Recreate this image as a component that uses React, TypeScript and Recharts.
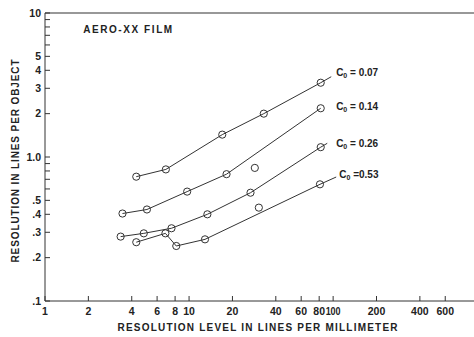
import React from "react";
import {
  ScatterChart,
  Scatter,
  XAxis,
  YAxis,
  ReferenceLine,
  ReferenceDot,
  Label,
} from "recharts";

const xTicks = [1, 2, 4, 6, 8, 10, 20, 40, 60, 80, 100, 200, 400, 600];
const yTicks = [0.1, 0.2, 0.3, 0.4, 0.5, 0.6, 0.7, 0.8, 0.9, 1, 2, 3, 4, 5, 6, 7, 8, 9, 10];
const yTickText: Record<string, string> = {
  "0.1": ".1",
  "0.2": ".2",
  "0.3": ".3",
  "0.4": ".4",
  "0.5": ".5",
  "1": "1.0",
  "2": "2",
  "3": "3",
  "4": "4",
  "5": "5",
  "10": "10",
};

// C0 = 0.07
const c007 = [
  { x: 4.3, y: 0.73 },
  { x: 6.9, y: 0.82 },
  { x: 17, y: 1.43 },
  { x: 33, y: 2.0 },
  { x: 82, y: 3.28 },
];
const c007End = { x: 97, y: 3.61 };

// C0 = 0.14
const c014 = [
  { x: 3.45, y: 0.405 },
  { x: 5.1, y: 0.432 },
  { x: 9.7, y: 0.575 },
  { x: 18.2, y: 0.76 },
  { x: 82, y: 2.18 },
];
const c014Off = [{ x: 28.6, y: 0.84 }];

// C0 = 0.26
const c026 = [
  { x: 3.35, y: 0.28 },
  { x: 4.85, y: 0.295 },
  { x: 7.55, y: 0.32 },
  { x: 13.4, y: 0.4 },
  { x: 26.7, y: 0.565 },
  { x: 82, y: 1.17 },
];
const c026End = { x: 91, y: 1.245 };

// C0 = 0.53
const c053 = [
  { x: 4.3, y: 0.256 },
  { x: 6.85, y: 0.295 },
  { x: 8.15, y: 0.241 },
  { x: 12.9, y: 0.268 },
  { x: 81, y: 0.646 },
];
const c053Off = [{ x: 30.5, y: 0.445 }];
const c053End = { x: 105, y: 0.726 };

const curveNotes = [
  { value: " = 0.07", x: 106.6, y: 3.85 },
  { value: " = 0.14", x: 106.6, y: 2.26 },
  { value: " = 0.26", x: 106.6, y: 1.245 },
  { value: " =0.53", x: 112, y: 0.75 },
];

const INK = "#333";
const FONT = "'Liberation Sans', Arial, sans-serif";

const ring = (p: any) => (
  <circle cx={p.cx} cy={p.cy} r={3.6} fill="none" stroke={INK} strokeWidth={1} />
);
const noDot = () => <g />;

const XTick = ({ x, y, payload }: any) => (
  <g>
    <line x1={x} x2={x} y1={y} y2={y - 5} stroke={INK} />
    <text
      x={x}
      y={y + 13.5}
      textAnchor="middle"
      fontSize={10.5}
      fontWeight="bold"
      fontFamily={FONT}
      fill="#222"
      {...(payload.value === 100 ? { textLength: 15, lengthAdjust: "spacingAndGlyphs" } : {})}
    >
      {payload.value}
    </text>
  </g>
);

const YTick = ({ x, y, payload }: any) => {
  const t = yTickText[String(payload.value)];
  return (
    <g>
      <line x1={x} x2={x + 5} y1={y} y2={y} stroke={INK} />
      {t !== undefined && (
        <text x={x - 4} y={y + 3.5} textAnchor="end" fontSize={10.5} fontWeight="bold" fontFamily={FONT} fill="#222">
          {t}
        </text>
      )}
    </g>
  );
};

const curveLabel = (value: string) => (props: any) => {
  const vb = props.viewBox;
  return (
    <text x={vb.x} y={vb.y + vb.height / 2 + 3.5} fontSize={10} fontWeight="bold" fontFamily={FONT} fill="#222">
      <tspan>C</tspan>
      <tspan fontSize={7} dy={2}>0</tspan>
      <tspan dy={-2}>{value}</tspan>
    </text>
  );
};

const titleLabel = (props: any) => {
  const vb = props.viewBox;
  return (
    <text x={vb.x} y={vb.y + vb.height / 2 + 3.5} fontSize={10} fontWeight="bold" fontFamily={FONT} fill="#222" textLength={89} lengthAdjust="spacing">
      AERO-XX FILM
    </text>
  );
};

export default function App() {
  return (
    <div style={{ position: "absolute", left: 0, top: 0, width: 474, height: 337, background: "#fff" }}>
      <ScatterChart width={474} height={337} margin={{ top: 13, right: 0, bottom: 16, left: 0 }}>
        <XAxis
          type="number"
          dataKey="x"
          scale="log"
          domain={[1, 950]}
          allowDataOverflow
          ticks={xTicks}
          interval={0}
          height={20}
          tickSize={0}
          tickMargin={0}
          tick={<XTick />}
          axisLine={{ stroke: INK }}
        >
          <Label
            content={(p: any) => (
              <text
                x={p.viewBox.x + p.viewBox.width / 2 - 2}
                y={p.viewBox.y + 30}
                textAnchor="middle"
                fontSize={10}
                fontWeight="bold"
                fontFamily={FONT}
                fill="#222"
                textLength={280}
                lengthAdjust="spacing"
              >
                RESOLUTION LEVEL IN LINES PER MILLIMETER
              </text>
            )}
          />
        </XAxis>
        <YAxis
          type="number"
          dataKey="y"
          scale="log"
          domain={[0.1, 10]}
          allowDataOverflow
          ticks={yTicks}
          interval={0}
          width={45}
          tickSize={0}
          tickMargin={0}
          tick={<YTick />}
          axisLine={{ stroke: INK }}
        >
          <Label
            content={(p: any) => {
              const cx = p.viewBox.x + 15;
              const cy = p.viewBox.y + p.viewBox.height / 2 + 4;
              return (
                <text
                  x={cx}
                  y={cy}
                  transform={`rotate(-90 ${cx} ${cy})`}
                  textAnchor="middle"
                  dominantBaseline="central"
                  fontSize={10}
                  fontWeight="bold"
                  fontFamily={FONT}
                  fill="#222"
                  textLength={203}
                  lengthAdjust="spacing"
                >
                  RESOLUTION IN LINES PER OBJECT
                </text>
              );
            }}
          />
        </YAxis>
        <ReferenceLine y={10} stroke={INK} strokeWidth={1.2} />

        <Scatter data={[...c007, c007End]} line={{ stroke: INK, strokeWidth: 1 }} lineType="joint" shape={noDot} isAnimationActive={false} />
        <Scatter data={c007} shape={ring} isAnimationActive={false} />

        <Scatter data={c014} line={{ stroke: INK, strokeWidth: 1 }} lineType="joint" shape={ring} isAnimationActive={false} />
        <Scatter data={c014Off} shape={ring} isAnimationActive={false} />

        <Scatter data={[...c026, c026End]} line={{ stroke: INK, strokeWidth: 1 }} lineType="joint" shape={noDot} isAnimationActive={false} />
        <Scatter data={c026} shape={ring} isAnimationActive={false} />

        <Scatter data={[...c053, c053End]} line={{ stroke: INK, strokeWidth: 1 }} lineType="joint" shape={noDot} isAnimationActive={false} />
        <Scatter data={c053} shape={ring} isAnimationActive={false} />
        <Scatter data={c053Off} shape={ring} isAnimationActive={false} />

        {curveNotes.map((n) => (
          <ReferenceDot key={n.value} x={n.x} y={n.y} r={1} fill="none" stroke="none" label={curveLabel(n.value)} />
        ))}
        <ReferenceDot x={1.87} y={7.7} r={1} fill="none" stroke="none" label={titleLabel} />
      </ScatterChart>
    </div>
  );
}
